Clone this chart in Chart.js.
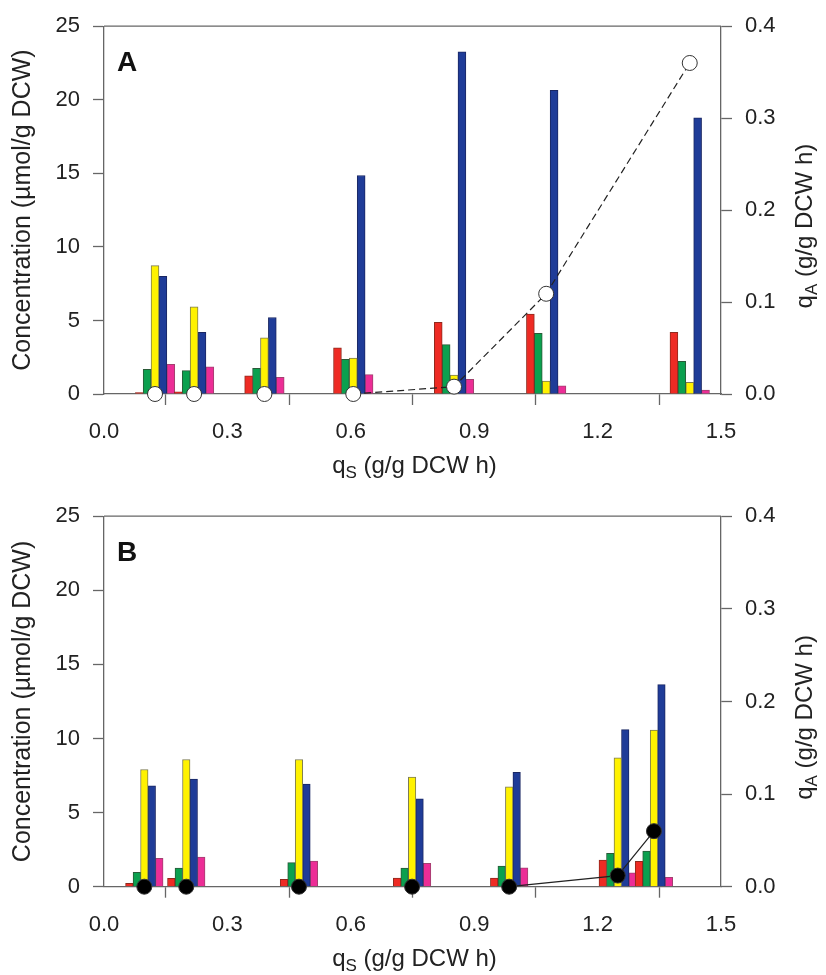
<!DOCTYPE html>
<html>
<head>
<meta charset="utf-8">
<script src="https://cdn.jsdelivr.net/npm/chart.js@4.4.0/dist/chart.umd.min.js"></script>
<style>
    html, body { margin: 0; padding: 0; background: #fff; }
    #wrap { position: relative; width: 826px; height: 975px; }
    canvas { position: absolute; left: 0; }
    #chartA { top: 0; }
    #chartB { top: 490px; }
</style>
</head>
<body>
<div id="wrap">
    <canvas id="chartA" width="826" height="490"></canvas>
    <canvas id="chartB" width="826" height="485"></canvas>
</div>
<script>
// Panel A - qS positions and concentrations (umol/g DCW), qA on right axis
const qsA      = [0.124, 0.219, 0.390, 0.606, 0.851, 1.075, 1.424];
const redA     = [0.10, 0.15, 1.23, 3.14, 4.87, 5.43, 4.19];
const greenA   = [1.68, 1.59, 1.75, 2.36, 3.36, 4.13, 2.22];
const yellowA  = [8.73, 5.92, 3.81, 2.45, 1.28, 0.87, 0.79];
const blueA    = [8.00, 4.19, 5.20, 14.85, 23.26, 20.64, 18.78];
const magentaA = [2.02, 1.84, 1.14, 1.32, 1.00, 0.56, 0.27];
const qaA      = [0, 0, 0, 0, 0.008, 0.109, 0.360];

// Panel B
const qsB      = [0.098, 0.200, 0.474, 0.749, 0.985, 1.249, 1.337];
const redB     = [0.22, 0.56, 0.50, 0.59, 0.59, 1.80, 1.71];
const greenB   = [0.97, 1.26, 1.62, 1.26, 1.39, 2.25, 2.40];
const yellowB  = [7.91, 8.58, 8.58, 7.39, 6.74, 8.69, 10.56];
const blueB    = [6.81, 7.26, 6.92, 5.93, 7.71, 10.60, 13.64];
const magentaB = [1.91, 2.00, 1.73, 1.58, 1.28, 0.94, 0.63];
const qaB      = [0, 0, 0, 0, 0, 0.012, 0.060];

const xTicks  = [0, 0.3, 0.6, 0.9, 1.2, 1.5];
const yTicks  = [0, 5, 10, 15, 20, 25];
const y1Ticks = [0, 0.1, 0.2, 0.3, 0.4];

const axisColor = '#666';
const textColor = '#222';
const fontFamily = '"Liberation Sans", Arial, sans-serif';

function pts(xs, ys) {
    return xs.map((x, i) => ({ x: x, y: ys[i] }));
}

// subscripted axis titles (q with S / A) and the panel letter
function drawSubText(ctx, x, y, rotation, main, sub, rest) {
    const big = '24px ' + fontFamily;
    const small = '17px ' + fontFamily;
    ctx.save();
    ctx.translate(x, y);
    ctx.rotate(rotation);
    ctx.fillStyle = textColor;
    ctx.textBaseline = 'alphabetic';
    ctx.textAlign = 'left';
    ctx.font = big;
    const w1 = ctx.measureText(main).width;
    const w3 = ctx.measureText(rest).width;
    ctx.font = small;
    const w2 = ctx.measureText(sub).width;
    let cx = -(w1 + w2 + w3) / 2;
    ctx.font = big;
    ctx.fillText(main, cx, 0);
    cx += w1;
    ctx.font = small;
    ctx.fillText(sub, cx, 5);
    cx += w2;
    ctx.font = big;
    ctx.fillText(rest, cx, 0);
    ctx.restore();
}

const panelDecor = {
    id: 'panelDecor',
    afterDraw(chart, args, opts) {
        const ctx = chart.ctx;
        const area = chart.chartArea;
        ctx.save();
        ctx.strokeStyle = axisColor;
        ctx.lineWidth = 1.3;
        ctx.beginPath();
        ctx.moveTo(area.left, area.top);
        ctx.lineTo(area.right, area.top);
        ctx.stroke();
        ctx.fillStyle = '#111';
        ctx.font = 'bold 28px ' + fontFamily;
        ctx.textBaseline = 'alphabetic';
        ctx.fillText(opts.letter, area.left + 13, area.top + 45);
        ctx.restore();
        drawSubText(ctx, (area.left + area.right) / 2 + 2, area.bottom + 79, 0, 'q', 'S', ' (g/g DCW h)');
        drawSubText(ctx, 812, (area.top + area.bottom) / 2 + 16, -Math.PI / 2, 'q', 'A', ' (g/g DCW h)');
    }
};

function barSet(xs, ys, fill, edge, thickness) {
    return {
        type: 'bar',
        data: pts(xs, ys),
        backgroundColor: fill,
        borderColor: edge,
        borderWidth: 1,
        barThickness: thickness,
        yAxisID: 'y',
        order: 1
    };
}

// segments lying on the zero line are hidden behind the axis
function hideFlat(ctx) {
    return (ctx.p0.parsed.y === 0 && ctx.p1.parsed.y === 0) ? 'rgba(0,0,0,0)' : undefined;
}

function makePanel(canvasId, letter, xs, series, qa, markerFill, dash, thickness, topPad) {
    const canvas = document.getElementById(canvasId);
    const xAxisH = canvas.height - topPad - 371;
    const tickFont = { family: fontFamily, size: 22 };

    return new Chart(canvas.getContext('2d'), {
        type: 'bar',
        data: {
            datasets: [
                barSet(xs, series[0], '#ee2b24', '#8f2a1e', thickness),
                barSet(xs, series[1], '#0ba04f', '#2a5a38', thickness),
                barSet(xs, series[2], '#fff200', '#7d7b52', thickness),
                barSet(xs, series[3], '#1f3c98', '#1a2763', thickness),
                barSet(xs, series[4], '#ec2d96', '#a2416f', thickness),
                {
                    type: 'line',
                    data: pts(xs, qa),
                    yAxisID: 'y1',
                    order: 0,
                    clip: false,
                    borderColor: '#222',
                    borderWidth: 1.2,
                    borderDash: dash,
                    segment: { borderColor: hideFlat },
                    tension: 0,
                    fill: false,
                    pointRadius: 7.5,
                    pointBackgroundColor: markerFill,
                    pointBorderColor: '#333',
                    pointBorderWidth: 1
                }
            ]
        },
        options: {
            responsive: false,
            animation: false,
            devicePixelRatio: 1,
            layout: { padding: { top: topPad, left: 0, right: 0, bottom: 0 } },
            plugins: {
                legend: { display: false },
                tooltip: { enabled: false },
                panelDecor: { letter: letter }
            },
            scales: {
                x: {
                    type: 'linear',
                    position: 'bottom',
                    min: 0,
                    max: 1.5,
                    offset: false,
                    border: { color: axisColor, width: 1.3 },
                    grid: { drawOnChartArea: false, tickLength: 11, tickColor: axisColor, tickWidth: 1.3 },
                    afterBuildTicks: s => { s.ticks = xTicks.map(v => ({ value: v })); },
                    ticks: { padding: 14, color: textColor, font: tickFont, maxRotation: 0,
                        callback: v => v.toFixed(1) },
                    afterFit: s => { s.height = xAxisH; }
                },
                y: {
                    position: 'left',
                    min: 0,
                    max: 25,
                    border: { color: axisColor, width: 1.3 },
                    grid: { drawOnChartArea: false, tickLength: 11, tickColor: axisColor, tickWidth: 1.3 },
                    afterBuildTicks: s => { s.ticks = yTicks.map(v => ({ value: v })); },
                    ticks: { padding: 13, color: textColor, font: tickFont },
                    title: {
                        display: true,
                        text: 'Concentration (\u00b5mol/g DCW)',
                        color: textColor,
                        font: { family: fontFamily, size: 25 },
                        padding: { top: 8, bottom: 0 }
                    },
                    afterFit: s => { s.width = 104; }
                },
                y1: {
                    position: 'right',
                    min: 0,
                    max: 0.4,
                    border: { color: axisColor, width: 1.3 },
                    grid: { drawOnChartArea: false, tickLength: 11, tickColor: axisColor, tickWidth: 1.3 },
                    afterBuildTicks: s => { s.ticks = y1Ticks.map(v => ({ value: v })); },
                    ticks: { padding: 13, color: textColor, font: tickFont,
                        callback: v => v.toFixed(1) },
                    afterFit: s => { s.width = 105; }
                }
            }
        },
        plugins: [panelDecor]
    });
}

makePanel('chartA', 'A', qsA, [redA, greenA, yellowA, blueA, magentaA], qaA, '#fff', [7, 4], 7.9, 23);
makePanel('chartB', 'B', qsB, [redB, greenB, yellowB, blueB, magentaB], qaB, '#000', [], 7.5, 25.7);
</script>
</body>
</html>
